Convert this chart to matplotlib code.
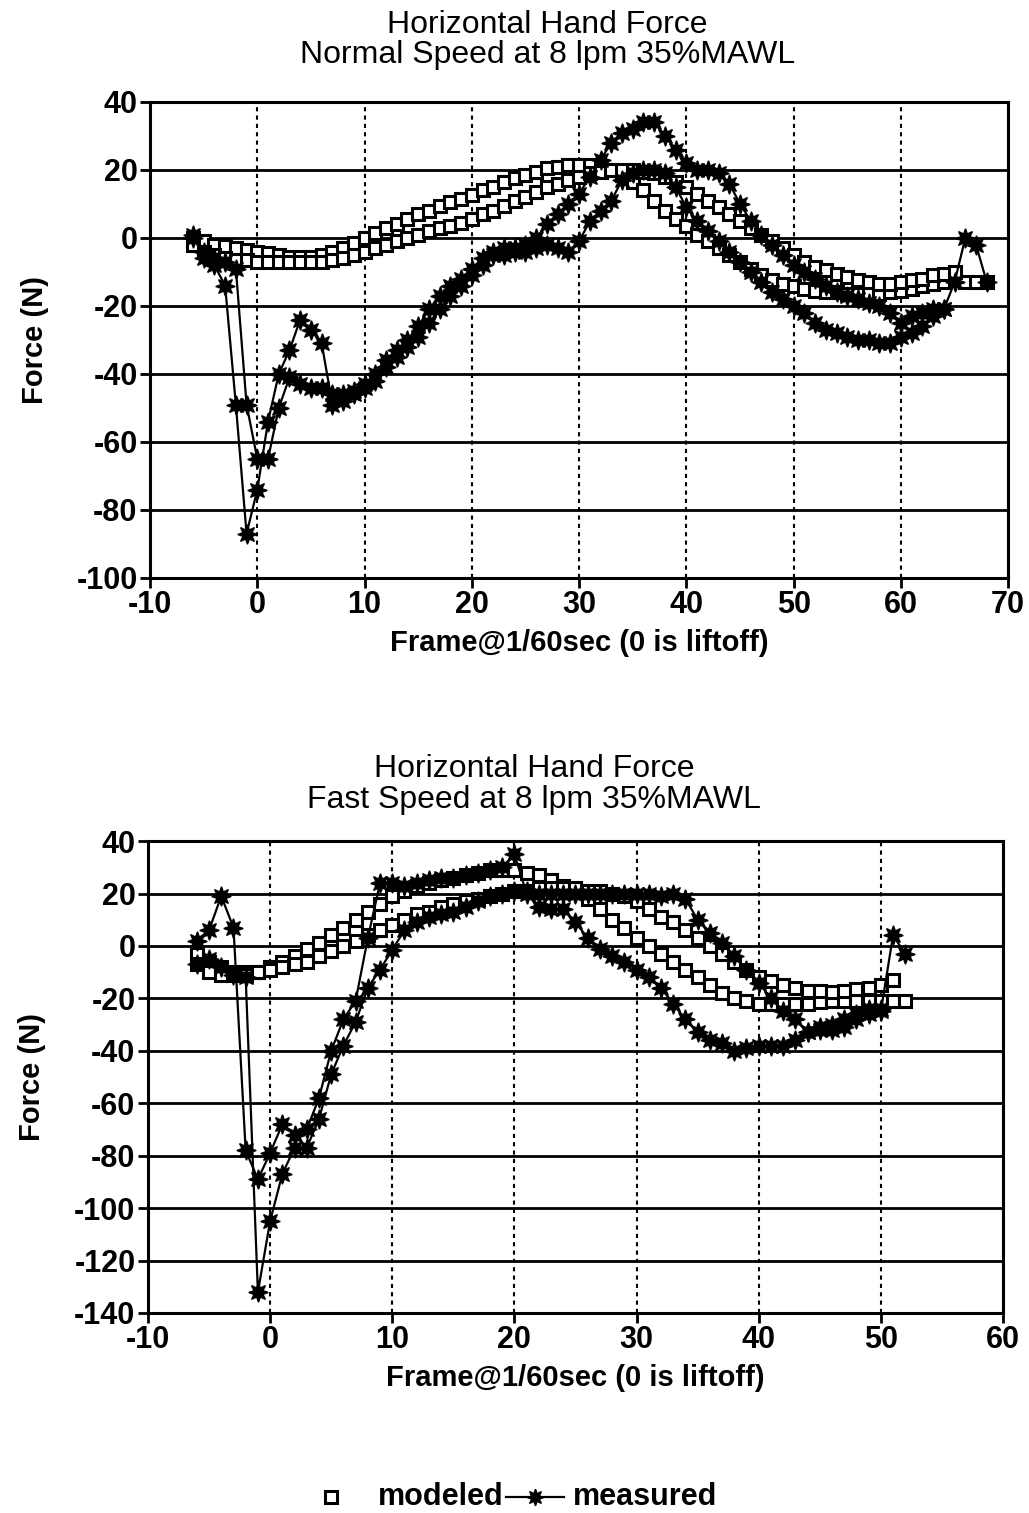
import numpy as np
import matplotlib.pyplot as plt
from matplotlib.lines import Line2D

plt.rcParams['font.family'] = ['Liberation Sans', 'DejaVu Sans']
plt.rcParams['axes.unicode_minus'] = False

# ---- top panel: normal speed ----
top_frames_m1 = np.arange(-6, 69)
top_modeled_1 = [0, -1, -2, -2.5, -3, -3.5, -4, -4.5, -5, -5.5,
                 -5.5, -5.5, -5, -4, -3, -1.5, 0, 1.5, 3, 4,
                 5.5, 7, 8, 9.5, 10.5, 11.5, 12.5, 14, 15, 16.5,
                 17.5, 18.5, 19.5, 20.5, 21, 21.5, 21.5, 21.5, 21, 20,
                 18.5, 16.5, 14, 11, 8, 5.5, 3.5, 1, -1, -3,
                 -5, -7, -9, -11, -12.5, -13.5, -14, -15, -15.5, -16,
                 -16, -16.5, -16.5, -16.5, -16.5, -16, -15.5, -15, -14, -13.5,
                 -13, -12.5, -13, -13, -13]
top_frames_m2 = np.arange(-6, 66)
top_modeled_2 = [-2, -4, -5, -6, -6.5, -6.5, -7, -7, -7, -7,
                 -7, -7, -7, -6.5, -6, -5, -4, -3, -2, -1,
                 0, 1, 2, 3, 3.5, 4.5, 5.5, 7, 8, 9.5,
                 11, 12, 13.5, 15, 16, 17, 18, 19, 19.5, 20,
                 20, 20, 19.5, 19, 18, 16.5, 15, 13, 11, 9,
                 7, 5, 3, 1, -1, -3, -5, -7, -8.5, -9.5,
                 -10.5, -11.5, -12.5, -13, -13.5, -13.5, -13, -12.5, -12, -11,
                 -10.5, -10]
top_frames_a = np.arange(-6, 69)
top_measured_1 = [1, -6, -8, -14, -49, -87, -74, -54, -40, -33,
                  -24, -27, -31, -49, -46, -45, -43, -40, -36, -33,
                  -30, -26, -21, -17, -14, -12, -9, -6, -4, -3,
                  -3, -2, 0, 4, 7, 10, 13, 18, 23, 28,
                  31, 32, 34, 34, 30, 26, 22, 20, 20, 19,
                  16, 10, 5, 1, -2, -5, -8, -10, -12, -14,
                  -16, -17, -18, -19, -20, -22, -25, -23, -22, -21,
                  -21, -13, 0, -2, -13]
top_frames_b = np.arange(-6, 65)
top_measured_2 = [0, -4, -6, -7, -9, -49, -65, -65, -50, -41,
                  -43, -44, -44, -46, -48, -46, -44, -42, -38, -35,
                  -32, -29, -25, -21, -17, -14, -11, -8, -5, -5,
                  -4, -4, -3, -2, -3, -4, -1, 5, 8, 11,
                  17, 19, 20, 20, 19, 15, 9, 5, 2, -1,
                  -4, -7, -10, -13, -16, -18, -20, -22, -25, -27,
                  -28, -29, -30, -30, -31, -31, -29, -28, -26, -23,
                  -21]

# ---- bottom panel: fast speed ----
bot_frames_m1 = np.arange(-6, 53)
bot_modeled_1 = [-3, -6, -8, -10, -10, -10, -8, -6, -4, -1,
                 1, 4, 7, 10, 13, 16, 19, 21, 23, 24,
                 25, 26, 27, 28, 29, 29, 29, 28, 27, 25,
                 23, 21, 18, 14, 10, 7, 3, 0, -3, -6,
                 -9, -12, -15, -18, -20, -21, -22, -22, -22, -22,
                 -22, -21.5, -21, -21, -21, -21, -21, -21, -21]
bot_frames_m2 = np.arange(-6, 52)
bot_modeled_2 = [-7, -10, -11, -11, -11, -10, -9, -8, -7, -6,
                 -4, -2, 0, 2, 4, 6, 8, 10, 12, 13,
                 15, 16, 17, 18, 19, 20, 21, 21, 22, 22,
                 22, 22, 21, 21, 20, 19, 17, 14, 11, 9,
                 6, 3, 0, -3, -6, -9, -12, -13.5, -15, -16,
                 -17, -17, -17.5, -17, -16.5, -16, -15, -13]
bot_frames_a = np.arange(-6, 51)
bot_measured_1 = [2, 6, 19, 7, -78, -89, -79, -68, -72, -70,
                  -58, -40, -28, -21, 3, 24, 24, 23, 24, 25,
                  26, 26, 27, 28, 29, 30, 35, 20, 15, 14,
                  14, 9, 3, -1, -4, -6, -9, -12, -16, -22,
                  -28, -33, -36, -37, -40, -39, -38, -38, -38, -36,
                  -33, -32, -32, -31, -28, -26, -24]
bot_frames_b = np.arange(-6, 53)
bot_measured_2 = [-7, -5, -8, -11, -12, -132, -105, -87, -77, -77,
                  -66, -49, -38, -29, -16, -9, -1.5, 6, 9, 11,
                  12, 13, 15, 17, 19, 20, 21, 21, 20, 20,
                  20, 20, 20, 20, 20, 20, 20, 20, 19, 20,
                  18, 10, 5, 1, -4, -9, -14, -20, -25, -28,
                  -33, -31, -30, -28, -26, -24, -25, 4, -3]

TICK_FS = 22
LABEL_FS = 21
TITLE_FS = 23

SQ = dict(linestyle='none', marker='s', ms=8, mfc='white', mec='black', mew=2.2)
STAR = dict(color='black', lw=1.6, marker=(8, 1, 0), ms=14, mfc='black', mec='black')


def draw_panel(ax, modeled, measured, xlim, ylim, xstep, ystep):
    for fr, vals in modeled:
        ax.plot(fr, vals, zorder=3, **SQ)
    for fr, vals in measured:
        ax.plot(fr, vals, zorder=4, **STAR)
    ax.set_xlim(*xlim)
    ax.set_ylim(*ylim)
    ax.set_xticks(np.arange(xlim[0], xlim[1] + 1, xstep))
    ax.set_yticks(np.arange(ylim[0], ylim[1] + 1, ystep))
    ax.yaxis.grid(True, color='black', lw=2, linestyle='-')
    ax.xaxis.grid(True, color='black', lw=1.5, linestyle=(0, (2, 2)))
    ax.set_axisbelow(True)
    for sp in ax.spines.values():
        sp.set_linewidth(2.2)
    ax.tick_params(direction='out', length=7, width=2, labelsize=TICK_FS, pad=2)
    for lab in ax.get_xticklabels() + ax.get_yticklabels():
        lab.set_fontweight('bold')
    ax.set_xlabel('Frame@1/60sec (0 is liftoff)', fontsize=LABEL_FS,
                  fontweight='bold', labelpad=6)
    ax.set_ylabel('Force (N)', fontsize=LABEL_FS, fontweight='bold',
                  labelpad=20)


fig = plt.figure(figsize=(10.29, 15.13), dpi=100)
ax1 = fig.add_axes([0.1458, 0.618, 0.834, 0.3146])
ax2 = fig.add_axes([0.1438, 0.1322, 0.8309, 0.3119])

draw_panel(ax1, [(top_frames_m1, top_modeled_1), (top_frames_m2, top_modeled_2)],
           [(top_frames_a, top_measured_1), (top_frames_b, top_measured_2)],
           (-10, 70), (-100, 40), 10, 20)
draw_panel(ax2, [(bot_frames_m1, bot_modeled_1), (bot_frames_m2, bot_modeled_2)],
           [(bot_frames_a, bot_measured_1), (bot_frames_b, bot_measured_2)],
           (-10, 60), (-140, 40), 10, 20)

fig.text(0.532, 0.9835, 'Horizontal Hand Force', ha='center', va='center',
         fontsize=TITLE_FS)
fig.text(0.532, 0.9635, 'Normal Speed at 8 lpm 35%MAWL', ha='center',
         va='center', fontsize=TITLE_FS)
fig.text(0.519, 0.4917, 'Horizontal Hand Force', ha='center', va='center',
         fontsize=TITLE_FS)
fig.text(0.519, 0.4712, 'Fast Speed at 8 lpm 35%MAWL', ha='center',
         va='center', fontsize=TITLE_FS)

# legend drawn by hand at the bottom centre
leg_y = 1 - 1497 / 1513
fig.add_artist(Line2D([331 / 1029], [leg_y], transform=fig.transFigure, **SQ))
fig.add_artist(Line2D([506 / 1029, 535 / 1029, 564 / 1029], [leg_y] * 3,
                      transform=fig.transFigure, markevery=[1],
                      **dict(STAR, ms=12)))
fig.text(378 / 1029, leg_y, 'modeled', ha='left', va='center',
         fontsize=22, fontweight='bold')
fig.text(573 / 1029, leg_y, 'measured', ha='left', va='center',
         fontsize=22, fontweight='bold')

fig.savefig('out.png', dpi=100)
